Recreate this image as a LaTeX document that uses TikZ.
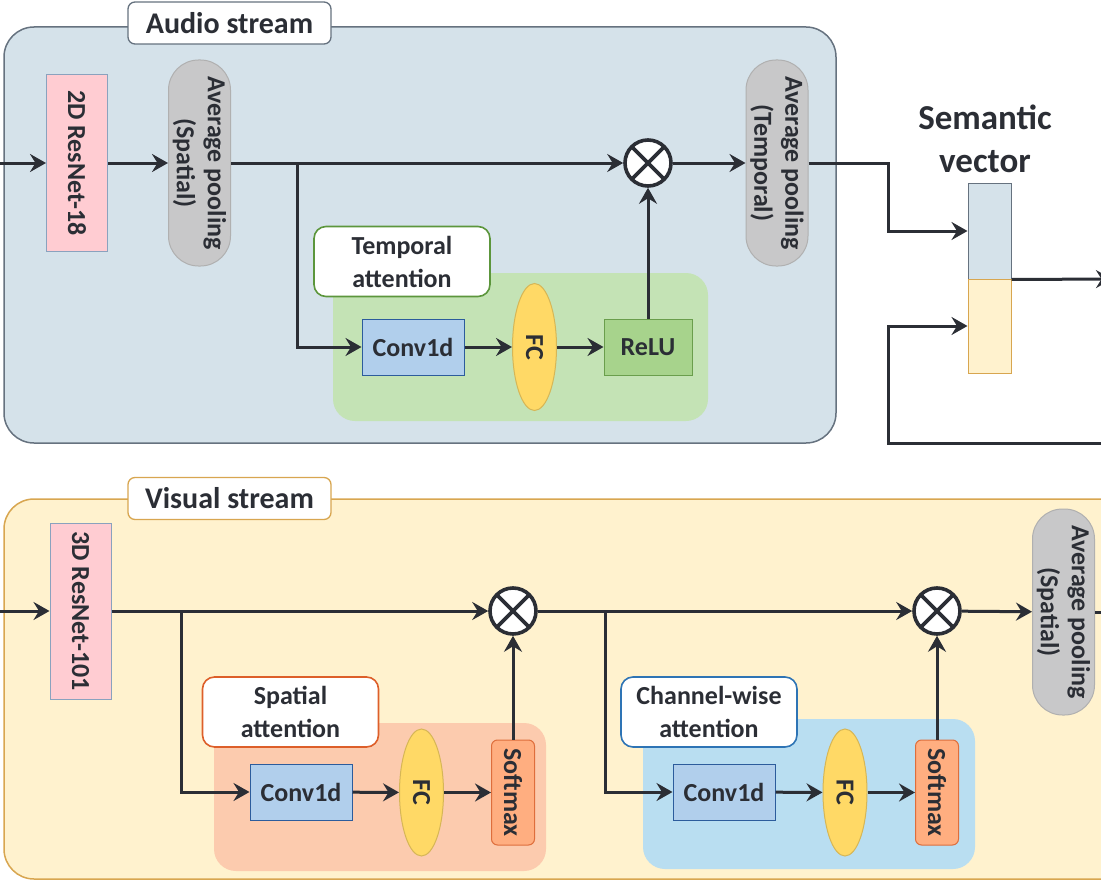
\documentclass[tikz,border=0pt]{standalone}
\usepackage{fontspec}
\setmainfont{Carlito}
\usetikzlibrary{shapes.geometric, arrows.meta}
\definecolor{inkgray}{HTML}{2B2E35}
\definecolor{audiofill}{HTML}{D5E2EA}
\definecolor{audioline}{HTML}{66727F}
\definecolor{visualfill}{HTML}{FFF2CE}
\definecolor{visualline}{HTML}{D8A650}
\definecolor{resfill}{HTML}{FFCCD2}
\definecolor{resline}{HTML}{8AA2BE}
\definecolor{poolfill}{HTML}{C8C8C9}
\definecolor{poolline}{HTML}{B0B0B0}
\definecolor{convfill}{HTML}{B1CFEC}
\definecolor{convline}{HTML}{2C5C9C}
\definecolor{fcfill}{HTML}{FFD966}
\definecolor{fcline}{HTML}{D6B656}
\definecolor{relufill}{HTML}{A7D38C}
\definecolor{reluline}{HTML}{6A9E4C}
\definecolor{tempfill}{HTML}{C4E3B5}
\definecolor{templine}{HTML}{5C963C}
\definecolor{spatfill}{HTML}{FCCBAE}
\definecolor{spatline}{HTML}{DD5F2A}
\definecolor{softfill}{HTML}{FFAE80}
\definecolor{softline}{HTML}{DE6E3C}
\definecolor{chanfill}{HTML}{B9DEF1}
\definecolor{chanline}{HTML}{2E74B5}

\begin{document}
\begin{tikzpicture}[x=1pt, y=-1pt, font=\bfseries\fontsize{26}{31}\selectfont, text=inkgray]
\tikzstyle{stream} = [rectangle, rounded corners=30pt, line width=1.5pt]
\tikzstyle{streamtitle} = [rectangle, rounded corners=7pt, fill=white, line width=1.3pt, minimum width=203pt, minimum height=42pt, font=\bfseries\fontsize{30}{36}\selectfont]
\tikzstyle{region} = [rectangle, rounded corners=22pt, draw=none]
\tikzstyle{regiontitle} = [rectangle, rounded corners=12pt, fill=white, line width=1.6pt, minimum width=176pt, minimum height=70pt, inner sep=0pt, align=center, font=\bfseries\fontsize{26}{33}\selectfont]
\tikzstyle{backbone} = [rectangle, rotate=-90, fill=resfill, draw=resline, line width=1pt, minimum width=176pt, minimum height=61pt]
\tikzstyle{pooling} = [rectangle, rotate=-90, rounded corners=30pt, fill=poolfill, draw=poolline, line width=1pt, minimum width=206pt, minimum height=62pt, inner sep=1pt, align=center]
\tikzstyle{conv} = [rectangle, fill=convfill, draw=convline, line width=1pt, minimum width=102pt, minimum height=56pt]
\tikzstyle{fc} = [ellipse, rotate=-90, fill=fcfill, draw=fcline, line width=1pt, minimum width=127pt, minimum height=44pt, inner sep=0pt]
\tikzstyle{act} = [rectangle, fill=relufill, draw=reluline, line width=1pt, minimum width=88pt, minimum height=56pt]
\tikzstyle{softmax} = [rectangle, rotate=-90, rounded corners=6pt, fill=softfill, draw=softline, line width=1pt, minimum width=105pt, minimum height=43pt, inner sep=1pt]
\tikzstyle{mult} = [circle, fill=white, draw=inkgray, line width=3.6pt, minimum size=46pt, inner sep=0pt,
  path picture={\draw[inkgray, line width=3.6pt] (path picture bounding box.north west) -- (path picture bounding box.south east) (path picture bounding box.north east) -- (path picture bounding box.south west);}]
\tikzstyle{wire} = [draw=inkgray, line width=3pt]
\tikzstyle{flow} = [wire, -{Stealth[length=16pt, width=18pt, inset=5.5pt]}]

\useasboundingbox (0,0) rectangle (1101,883);
\clip (0,0) rectangle (1101,883);

\node (audiobox) [stream, fill=audiofill, draw=audioline, minimum width=832pt, minimum height=416pt] at (420,235) {};
\node (audiotitle) [streamtitle, draw=audioline] at (229.5,23) {Audio stream};
\node (tempbox) [region, fill=tempfill, minimum width=375pt, minimum height=148pt] at (520.5,347) {};
\node (temptitle) [regiontitle, draw=templine] at (402,261.5) {Temporal\\attention};

\node (res18) [backbone] at (77,163) {2D ResNet-18};
\node (poolspat) [pooling] at (199.5,163) {Average pooling\\(Spatial)};
\node (mula) [mult] at (648,163) {};
\node (convt) [conv] at (413,347) {Conv1d};
\node (fct) [fc] at (534.5,347) {FC};
\node (relu) [act] at (648,347) {ReLU};
\node (pooltemp) [pooling] at (777,163) {Average pooling\\(Temporal)};

\node (semtitle) [align=center, font=\bfseries\fontsize{35}{43}\selectfont] at (985,139) {Semantic\\vector};
\node (svaudio) [rectangle, fill=audiofill, draw=audioline, line width=1pt, minimum width=43pt, minimum height=96pt] at (989.5,231) {};
\node (svvisual) [rectangle, fill=visualfill, draw=visualline, line width=1pt, minimum width=43pt, minimum height=94pt] at (989.5,326) {};

\coordinate (ain) at (0,163);
\coordinate (splita) at (297,163);
\coordinate (turna) at (888,231);
\coordinate (turnb) at (888,326);
\coordinate (loopin) at (1110,443);
\coordinate (svout) at (1112,279);

\draw[flow] (ain) -- (res18);
\draw[flow] (res18) -- (poolspat);
\draw[flow] (poolspat) -- (mula);
\draw[flow] (splita) |- (convt);
\draw[flow] (convt) -- (fct);
\draw[flow] (fct) -- (relu);
\draw[flow] (relu) -- (mula);
\draw[flow] (mula) -- (pooltemp);
\draw[flow] (pooltemp.north) -| (turna) -- (svaudio);
\draw[flow] (loopin) -| (turnb) -- (svvisual);
\draw[flow] (svaudio.south east) -- (svout);

\node (visualbox) [stream, fill=visualfill, draw=visualline, minimum width=1140pt, minimum height=380pt] at (574,689) {};
\node (visualtitle) [streamtitle, draw=visualline] at (229.5,498.5) {Visual stream};
\node (spatbox) [region, fill=spatfill, minimum width=332pt, minimum height=148pt] at (380,797) {};
\node (spattitle) [regiontitle, draw=spatline] at (290.5,712) {Spatial\\attention};
\node (chanbox) [region, fill=chanfill, minimum width=332pt, minimum height=150pt] at (809,794) {};
\node (chantitle) [regiontitle, draw=chanline] at (709,712) {Channel-wise\\attention};

\node (res101) [backbone] at (80.5,611) {3D ResNet-101};
\node (mulb) [mult] at (513,611) {};
\node (convs) [conv] at (301,792) {Conv1d};
\node (fcs) [fc] at (421.5,792.5) {FC};
\node (softs) [softmax] at (513,792.5) {Softmax};
\node (mulc) [mult] at (937,611) {};
\node (convc) [conv] at (724,792) {Conv1d};
\node (fcc) [fc] at (845,792.5) {FC};
\node (softc) [softmax] at (937,792.5) {Softmax};
\node (poolvis) [pooling] at (1063.5,612) {Average pooling\\(Spatial)};

\coordinate (vin) at (0,611);
\coordinate (splitb) at (181,611);
\coordinate (splitc) at (605,611);
\coordinate (visout) at (1110,612);

\draw[flow] (vin) -- (res101);
\draw[flow] (res101) -- (mulb);
\draw[flow] (splitb) |- (convs);
\draw[flow] (convs) -- (fcs);
\draw[flow] (fcs) -- (softs);
\draw[flow] (softs) -- (mulb);
\draw[flow] (mulb) -- (mulc);
\draw[flow] (splitc) |- (convc);
\draw[flow] (convc) -- (fcc);
\draw[flow] (fcc) -- (softc);
\draw[flow] (softc) -- (mulc);
\draw[flow] (mulc) -- (poolvis);
\draw[wire] (poolvis.north) -- (visout);
\end{tikzpicture}
\end{document}
